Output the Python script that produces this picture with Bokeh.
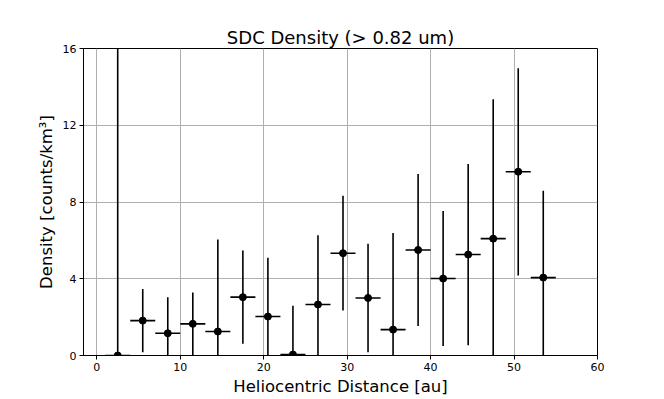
import numpy as np
from bokeh.plotting import figure
from bokeh.models import ColumnDataSource, Range1d, FixedTicker
from bokeh.embed import file_html
from bokeh.resources import INLINE

# Data
distance = [2.5, 5.5, 8.5, 11.5, 14.5, 17.5, 20.5, 23.5, 26.5, 29.5,
            32.5, 35.5, 38.5, 41.5, 44.5, 47.5, 50.5, 53.5]
bin_halfwidth = [1.5] * 18
density = [0.0, 1.82, 1.16, 1.65, 1.25, 3.04, 2.03, 0.05, 2.66, 5.33,
           3.0, 1.35, 5.50, 4.01, 5.26, 6.09, 9.58, 4.06]
density_low = [0.0, 0.17, 0.0, 0.0, 0.0, 0.61, 0.0, 0.0, 0.0, 2.34,
               0.17, 0.0, 1.54, 0.5, 0.54, 0.0, 4.17, 0.0]
density_high = [20.0, 3.47, 3.04, 3.28, 6.04, 5.47, 5.10, 2.59, 6.27, 8.33,
                5.82, 6.39, 9.46, 7.53, 9.98, 13.35, 14.97, 8.59]
x_ticks = [0, 10, 20, 30, 40, 50, 60]
y_ticks = [0, 4, 8, 12, 16]

x = np.array(distance)
hw = np.array(bin_halfwidth)
src = ColumnDataSource(dict(
    x=x, y=density, x0=x - hw, x1=x + hw, ylo=density_low, yhi=density_high))

FONT = "DejaVu Sans"
p = figure(width=664, height=399, output_backend="svg", toolbar_location=None,
           x_range=Range1d(-1.6, 60), y_range=Range1d(0, 16),
           min_border_left=83, min_border_right=67, min_border_top=48,
           min_border_bottom=44)

p.title.text = "SDC Density (> 0.82 um)"
p.title.text_font = FONT
p.title.text_font_size = "18px"
p.title.text_font_style = "normal"
p.title.align = "center"
p.title.text_color = "black"
p.title.standoff = 2

p.outline_line_color = "black"
p.outline_line_width = 1
p.outline_line_alpha = 1

for ax in (p.xaxis[0], p.yaxis[0]):
    ax.axis_line_color = "black"
    ax.major_tick_line_color = "black"
    ax.major_tick_out = 4
    ax.major_tick_in = 0
    ax.minor_tick_line_color = None
    ax.major_label_text_font = FONT
    ax.major_label_text_font_size = "11px"
    ax.major_label_text_color = "black"
    ax.axis_label_text_font = FONT
    ax.axis_label_text_font_size = "16.5px"
    ax.axis_label_text_font_style = "normal"
    ax.axis_label_text_color = "black"

p.xaxis.ticker = FixedTicker(ticks=x_ticks)
p.yaxis.ticker = FixedTicker(ticks=y_ticks)
p.xaxis.axis_label = "Heliocentric Distance [au]"
p.yaxis.axis_label = "Density [counts/km³]"
p.xaxis.axis_label_standoff = 3
p.yaxis.axis_label_standoff = 4
p.xaxis.major_label_standoff = 3
p.yaxis.major_label_standoff = 3

p.xgrid.ticker = FixedTicker(ticks=x_ticks)
p.ygrid.ticker = FixedTicker(ticks=y_ticks)
p.grid.grid_line_color = "#b0b0b0"
p.grid.grid_line_width = 1

p.segment(x0="x0", y0="y", x1="x1", y1="y", source=src, line_color="black", line_width=1.6)
p.segment(x0="x", y0="ylo", x1="x", y1="yhi", source=src, line_color="black", line_width=1.6)
p.scatter(x="x", y="y", source=src, size=7, fill_color="black", line_color="black")

open("out.html", "w").write(file_html(p, INLINE))
